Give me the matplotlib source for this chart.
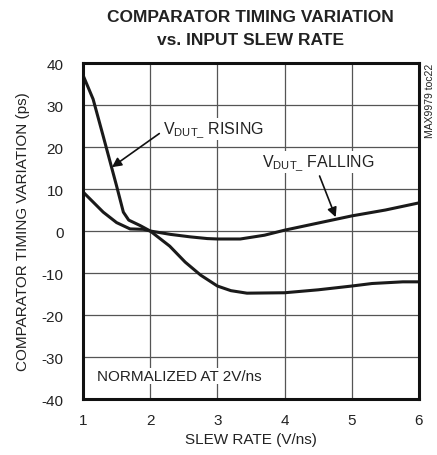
import numpy as np
import matplotlib.pyplot as plt

plt.rcParams['font.family'] = ['Liberation Sans', 'DejaVu Sans']
plt.rcParams['mathtext.fontset'] = 'custom'
plt.rcParams['mathtext.rm'] = 'Liberation Sans'
plt.rcParams['axes.unicode_minus'] = False

# Datos
slew_rise = [1.0, 1.15, 1.3, 1.5, 1.6, 1.68, 1.85, 2.0, 2.29, 2.52, 2.75, 3.0, 3.2, 3.44, 4.0, 4.5, 5.0, 5.3, 5.76, 6.0]
rise = [37.1, 31.4, 22.6, 10.7, 4.5, 2.6, 1.3, 0.0, -3.6, -7.4, -10.5, -13.1, -14.2, -14.8, -14.7, -14.0, -13.1, -12.5, -12.1, -12.1]

slew_fall = [1.0, 1.3, 1.5, 1.7, 1.9, 2.0, 2.3, 2.6, 2.85, 3.0, 3.34, 3.7, 4.0, 4.5, 5.0, 5.5, 6.0]
fall = [9.3, 4.5, 2.0, 0.5, 0.4, 0.0, -0.8, -1.4, -1.8, -1.9, -1.9, -1.0, 0.2, 1.9, 3.6, 5.0, 6.7]

x_ticks = [1, 2, 3, 4, 5, 6]
y_ticks = [-40, -30, -20, -10, 0, 10, 20, 30, 40]

fig = plt.figure(figsize=(4.37, 4.56), dpi=100)
ax = fig.add_axes([0.19, 0.1228, 0.7688, 0.7368])

ax.plot(slew_rise, rise, color='#1a1a1a', lw=2.2, solid_capstyle='butt')
ax.plot(slew_fall, fall, color='#1a1a1a', lw=2.2, solid_capstyle='butt')

ax.set_xlim(1, 6)
ax.set_ylim(-40, 40)
ax.set_xticks(x_ticks)
ax.set_yticks(y_ticks)
ax.tick_params(length=0, labelsize=11, colors='#222222')
ax.tick_params(axis='x', pad=10)
ax.tick_params(axis='y', pad=14)
ax.grid(True, color='#555555', lw=0.9)
for s in ax.spines.values():
    s.set_linewidth(2.2)
    s.set_color('#111111')

ax.set_xlabel('SLEW RATE (V/ns)', fontsize=11, labelpad=4, color='#222222')
ax.set_ylabel('COMPARATOR TIMING VARIATION (ps)', fontsize=11, labelpad=8, color='#222222')

fig.text(0.573, 0.962, 'COMPARATOR TIMING VARIATION', ha='center', va='center',
         fontsize=12.5, fontweight='bold', family=['Liberation Sans Narrow', 'Liberation Sans'], color='#222222')
fig.text(0.573, 0.912, 'vs. INPUT SLEW RATE', ha='center', va='center',
         fontsize=12.5, fontweight='bold', family=['Liberation Sans Narrow', 'Liberation Sans'], color='#222222')

fig.text(0.984, 0.86, 'MAX9979 toc22', rotation=90, ha='center', va='top', fontsize=7.5, color='#222222')

ax.text(1.21, -34.5, 'NORMALIZED AT 2V/ns', fontsize=11, va='center', ha='left', color='#222222',
        bbox=dict(facecolor='white', edgecolor='none', pad=1))

ax.annotate(r'$\mathregular{V_{DUT\_}}$ RISING', xy=(1.43, 15.2), xytext=(2.19, 24.3),
            fontsize=11.5, va='center', ha='left', color='#222222',
            bbox=dict(facecolor='white', edgecolor='none', pad=1),
            arrowprops=dict(arrowstyle='-|>', color='#111111', lw=1.2, mutation_scale=14, shrinkA=2, shrinkB=0,
                            relpos=(0.0, 0.4)))
ax.annotate(r'$\mathregular{V_{DUT\_}}$ FALLING', xy=(4.76, 3.3), xytext=(3.66, 16.4),
            fontsize=11.5, va='center', ha='left', color='#222222',
            bbox=dict(facecolor='white', edgecolor='none', pad=1),
            arrowprops=dict(arrowstyle='-|>', color='#111111', lw=1.2, mutation_scale=14, shrinkA=2, shrinkB=0,
                            relpos=(0.5, 0.0)))

plt.savefig('out.png', dpi=100)
